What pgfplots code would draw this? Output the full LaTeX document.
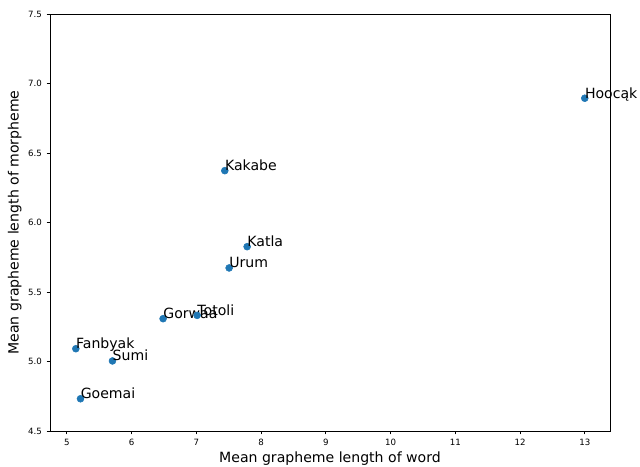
\documentclass[border=0pt]{standalone}
\usepackage{pgfplots}
\pgfplotsset{compat=1.18}
\usepackage{fontspec}
\setmainfont{DejaVu Sans}
\usetikzlibrary{calc}
\definecolor{mplblue}{HTML}{1F77B4}
\begin{document}
\begin{tikzpicture}
\begin{axis}[
  scale only axis,
  width=420bp, height=312.75bp,
  xmin=4.74, xmax=13.39, ymin=4.5, ymax=7.5,
  xtick={5,6,...,13},
  ytick={4.5,5.0,5.5,6.0,6.5,7.0,7.5},
  yticklabel style={/pgf/number format/fixed,/pgf/number format/fixed zerofill,/pgf/number format/precision=1},
  /pgf/number format/assume math mode=true,
  tick label style={font=\fontsize{6.5}{7}\selectfont},
  tick align=outside, tick pos=left,
  major tick length=2.6bp,
  axis line style={line width=0.6bp},
  every tick/.style={line width=0.6bp, black},
  xlabel={Mean grapheme length of word},
  ylabel={Mean grapheme length of morpheme},
  label style={font=\fontsize{10.6}{12}\selectfont},
  xlabel style={yshift=2bp},
  ylabel style={yshift=-2bp},
  clip=false,
]
\addplot[only marks, mark=*, mark size=2.6bp, color=mplblue,
  nodes near coords={\labl},
  visualization depends on={value \thisrow{label}\as\labl},
  every node near coord/.append style={anchor=base west, inner sep=0pt, black, font=\fontsize{10.6}{12}\selectfont},
] table[x=x, y=y] {
x y label
13.0 6.894 Hoocąk
7.44 6.373 Kakabe
7.785 5.826 Katla
7.507 5.673 Urum
6.487 5.308 Gorwaa
7.013 5.332 Totoli
5.139 5.092 Fanbyak
5.705 5.004 Sumi
5.211 4.732 Goemai
};
\end{axis}
\pgfresetboundingbox
\path ($(current axis.south west)+(-37.5bp,-27bp)$) rectangle ($(current axis.north east)+(22.5bp,10.5bp)$);
\end{tikzpicture}
\end{document}
